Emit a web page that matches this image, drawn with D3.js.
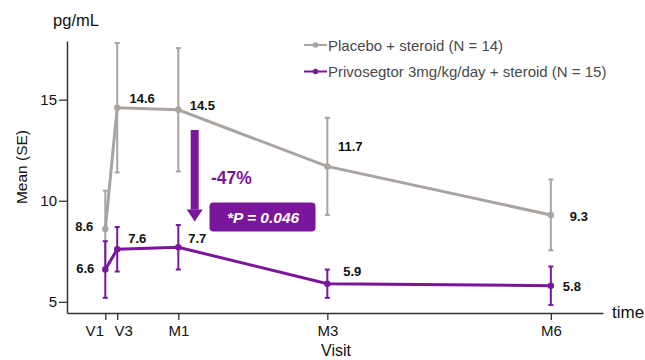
<!DOCTYPE html>
<html>
<head>
<meta charset="utf-8">
<script src="https://cdn.jsdelivr.net/npm/d3@7/dist/d3.min.js"></script>
<style>
  html, body { margin: 0; padding: 0; background: #fff; }
  svg { display: block; font-family: Arial, "Liberation Sans", sans-serif; }
</style>
</head>
<body>
<svg id="chart" width="645" height="360"></svg>
<script>
// ---- data ----
const visits = ["V1", "V3", "M1", "M3", "M6"];
const visitMonths = [0.02, 0.18, 1, 3, 6];
const placeboMean = [8.6, 14.6, 14.5, 11.7, 9.3];
const placeboSE = [1.9, 3.2, 3.05, 2.4, 1.75];
const drugMean = [6.6, 7.6, 7.7, 5.9, 5.8];
const drugSE = [1.4, 1.1, 1.1, 0.7, 0.95];
const yTicks = [5, 10, 15];
const seriesNames = ["Placebo + steroid (N = 14)", "Privosegtor 3mg/kg/day + steroid (N = 15)"];
const reductionText = "-47%";
const pValueText = "*P = 0.046";

// ---- layout ----
const gray = "#aaa4a1", purple = "#7a169c", axisColor = "#333";
const svg = d3.select("#chart");
const x = d3.scaleLinear().domain([-0.494, 6.7]).range([67, 603]);
const y = d3.scaleLinear().domain([4.45, 17.9]).range([313, 41]);

// label offsets (pixels) per point
const placeboLabelOff = [[-21, -3], [25, -9], [24, -4], [23, -20], [28, 2]];
const drugLabelOff = [[-20, -1], [20, -11], [19, -9], [25, -12], [21, 1]];
const tickLabelShift = [-11, 6, 0, 0, 0];

// axes
const yAxis = d3.axisLeft(y).tickValues(yTicks).tickSize(8).tickSizeOuter(0).tickFormat(d3.format("d"));
const gy = svg.append("g").attr("transform", "translate(67,0)").call(yAxis);
const xAxis = d3.axisBottom(x).tickValues(visitMonths).tickSize(7).tickSizeOuter(0).tickFormat((d, i) => visits[i]);
const gx = svg.append("g").attr("transform", "translate(0,313)").call(xAxis);
[gx, gy].forEach(g => {
  g.select(".domain").attr("stroke", axisColor).attr("stroke-width", 1.5);
  g.selectAll(".tick line").attr("stroke", axisColor).attr("stroke-width", 1.3);
  g.selectAll(".tick text").attr("fill", "#111").attr("font-size", 15)
   .attr("font-family", "Arial, 'Liberation Sans', sans-serif");
});
gy.selectAll(".tick text").attr("dx", 1);
gx.selectAll(".tick text").attr("dy", "0.85em").attr("dx", (d, i) => tickLabelShift[i]);

// axis titles
svg.append("text").attr("x", 76).attr("y", 26).attr("text-anchor", "middle")
  .attr("font-size", 16.5).attr("fill", "#111").text("pg/mL");
svg.append("text").attr("transform", "translate(27,167) rotate(-90)").attr("text-anchor", "middle")
  .attr("font-size", 15.5).attr("fill", "#111").text("Mean (SE)");
svg.append("text").attr("x", 336).attr("y", 355.5).attr("text-anchor", "middle")
  .attr("font-size", 16).attr("fill", "#111").text("Visit");
svg.append("text").attr("x", 612).attr("y", 318).attr("text-anchor", "start")
  .attr("font-size", 17).attr("fill", "#111").text("time");

function drawSeries(means, ses, color, offs) {
  const pts = means.map((m, i) => ({ t: visitMonths[i], m, se: ses[i], off: offs[i] }));
  const g = svg.append("g");
  // error bars
  pts.forEach(p => {
    const cx = x(p.t);
    g.append("line").attr("x1", cx).attr("x2", cx).attr("y1", y(p.m + p.se)).attr("y2", y(p.m - p.se))
      .attr("stroke", color).attr("stroke-width", 2);
    [p.m + p.se, p.m - p.se].forEach(v => {
      g.append("line").attr("x1", cx - 2.5).attr("x2", cx + 2.5).attr("y1", y(v)).attr("y2", y(v))
        .attr("stroke", color).attr("stroke-width", 2);
    });
  });
  // line
  g.append("path").datum(pts)
    .attr("d", d3.line().x(p => x(p.t)).y(p => y(p.m)))
    .attr("fill", "none").attr("stroke", color).attr("stroke-width", 3);
  g.selectAll("circle").data(pts).join("circle")
    .attr("cx", p => x(p.t)).attr("cy", p => y(p.m)).attr("r", 3.2).attr("fill", color);
  // labels
  g.selectAll("text.lbl").data(pts).join("text").attr("class", "lbl")
    .attr("x", p => x(p.t) + p.off[0]).attr("y", p => y(p.m) + p.off[1])
    .attr("text-anchor", "middle").attr("dominant-baseline", "central")
    .attr("font-size", 13).attr("font-weight", "bold").attr("fill", "#111")
    .text(p => p.m.toFixed(1));
}
drawSeries(placeboMean, placeboSE, gray, placeboLabelOff);
drawSeries(drugMean, drugSE, purple, drugLabelOff);

// legend
[[gray, 45], [purple, 71.5]].forEach(([c, ly], i) => {
  svg.append("line").attr("x1", 304).attr("x2", 327).attr("y1", ly).attr("y2", ly)
    .attr("stroke", c).attr("stroke-width", 2);
  svg.append("circle").attr("cx", 315.5).attr("cy", ly).attr("r", 2.8).attr("fill", c);
  svg.append("text").attr("x", 328).attr("y", ly).attr("dominant-baseline", "central")
    .attr("font-size", 15).attr("fill", "#4a4a4a").text(seriesNames[i]);
});

// arrow annotation
const ax = x(1.22);
const aTop = y(13.5), aTip = y(8.97), headLen = 12;
svg.append("rect").attr("x", ax - 4).attr("y", aTop).attr("width", 8).attr("height", aTip - headLen - aTop)
  .attr("fill", purple);
svg.append("path")
  .attr("d", `M${ax - 8},${aTip - headLen} L${ax + 8},${aTip - headLen} L${ax},${aTip} Z`)
  .attr("fill", purple);
svg.append("text").attr("x", 211).attr("y", 178).attr("dominant-baseline", "central")
  .attr("font-size", 17.5).attr("font-weight", "bold").attr("fill", purple).text(reductionText);
svg.append("rect").attr("x", 209.5).attr("y", 202.5).attr("width", 106).attr("height", 29)
  .attr("rx", 4).attr("fill", purple);
svg.append("text").attr("x", 263).attr("y", 217.5).attr("text-anchor", "middle").attr("dominant-baseline", "central")
  .attr("font-size", 15.5).attr("font-weight", "bold").attr("font-style", "italic").attr("fill", "#fff")
  .text(pValueText);
</script>
</body>
</html>
